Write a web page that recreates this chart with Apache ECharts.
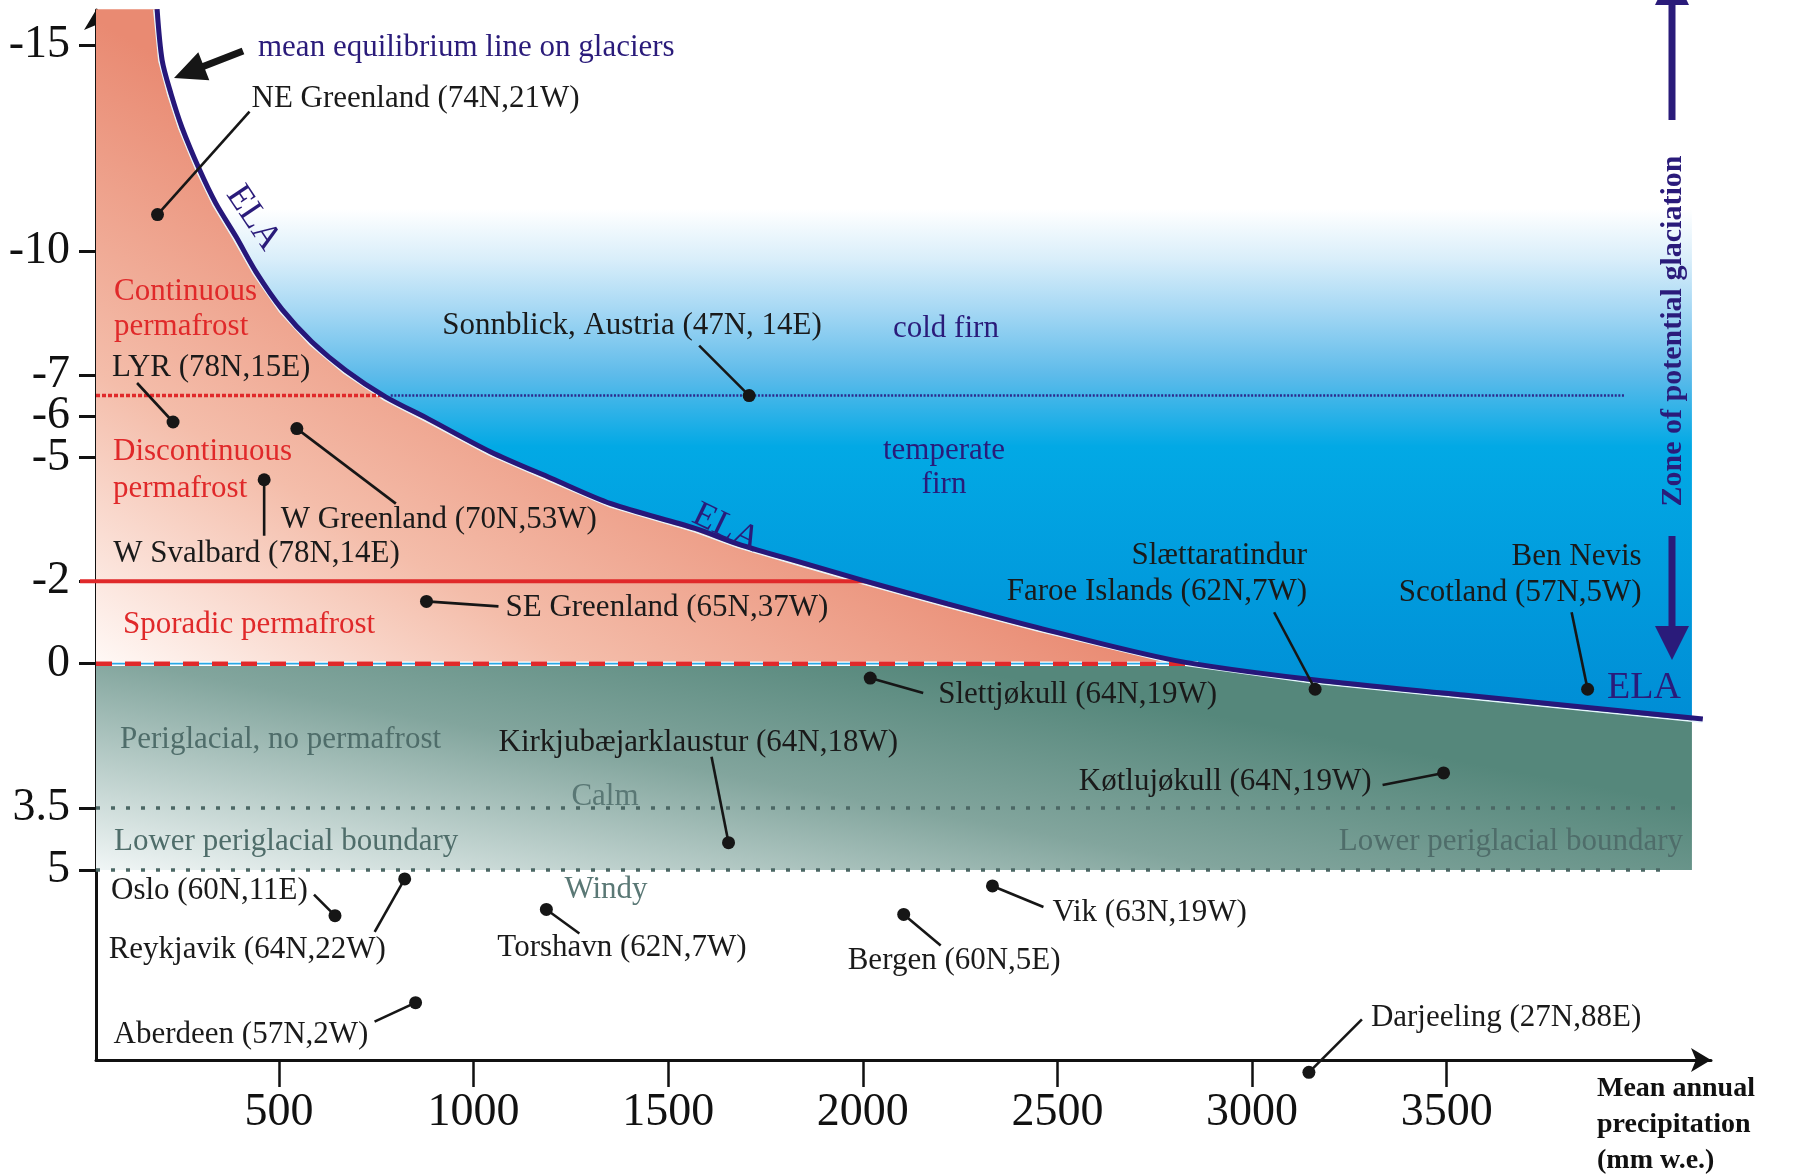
<!DOCTYPE html>
<html>
<head>
<meta charset="utf-8">
<script src="https://cdn.jsdelivr.net/npm/echarts@6/dist/echarts.min.js"></script>
<style>
  html, body { margin: 0; padding: 0; background: #ffffff; }
  #chart { width: 1795px; height: 1175px; }
</style>
</head>
<body>
<div id="chart"></div>
<script>
// Mean equilibrium line (ELA) on glaciers: annual precipitation (mm w.e.) vs mean annual air temperature (°C)
const elaPrecip = [187, 200, 223, 251, 295, 338, 390, 441, 508, 585, 672, 774, 885, 1043, 1201, 1353, 1569, 1680, 1850, 2000, 2218, 2447, 2801, 3157, 3544, 4158];
const elaTemp = [-15.87, -14.63, -13.81, -13.0, -12.0, -11.16, -10.35, -9.50, -8.59, -7.80, -7.11, -6.47, -5.93, -5.14, -4.49, -3.88, -3.28, -2.90, -2.43, -2.02, -1.45, -0.88, -0.08, 0.39, 0.76, 1.34];

// Temperature limits of the zones
const continuousLimit = -6.5;   // continuous permafrost / cold firn
const discontinuousLimit = -2;  // discontinuous / sporadic permafrost
const sporadicLimit = 0;        // lower permafrost limit
const calmLimit = 3.5;          // lower periglacial boundary, calm sites
const windyLimit = 5;           // lower periglacial boundary, windy sites

// Precipitation extent of the drawn zones
const precipMin = 30;
const precipMax = 4179;
const zoneRightEdge = 4130;
const firnLineEnd = 3958;
const calmLineEnd = 4102;
const windyLineEnd = 4061;

// Axis ticks
const xTicks = [500, 1000, 1500, 2000, 2500, 3000, 3500];
const yTicks = [-15, -10, -7, -6, -5, -2, 0, 3.5, 5];
const tempMin = -15.85;
const tempMax = 9.61;

// Stations
const stationNames = [
  'NE Greenland (74N,21W)', 'LYR (78N,15E)', 'W Greenland (70N,53W)', 'W Svalbard (78N,14E)',
  'SE Greenland (65N,37W)', 'Sonnblick, Austria (47N, 14E)', 'Slættaratindur\nFaroe Islands (62N,7W)',
  'Ben Nevis\nScotland (57N,5W)', 'Slettjøkull (64N,19W)', 'Kirkjubæjarklaustur (64N,18W)',
  'Køtlujøkull (64N,19W)', 'Oslo (60N,11E)', 'Reykjavik (64N,22W)', 'Aberdeen (57N,2W)',
  'Torshavn (62N,7W)', 'Bergen (60N,5E)', 'Vik (63N,19W)', 'Darjeeling (27N,88E)'
];
const stationPrecip = [188, 228, 546, 462, 879, 1708, 3162, 3862, 2019, 1655, 3492, 644, 823, 851, 1187, 2105, 2333, 3146];
const stationTemp = [-10.89, -5.86, -5.70, -4.46, -1.51, -6.5, 0.62, 0.62, 0.35, 4.34, 2.65, 6.11, 5.22, 8.22, 5.96, 6.08, 5.39, 9.91];

// Leader line end and label anchor, in px relative to each station dot
const stationLayout = [
  { lead: [92, -103], text: [94, -116], align: 'left' },
  { lead: [-36, -39], text: [-61, -54], align: 'left' },
  { lead: [99, 75], text: [-16, 91], align: 'left' },
  { lead: [0, 56], text: [-151, 74], align: 'left' },
  { lead: [72, 5], text: [79, 6], align: 'left' },
  { lead: [-50, -50], text: [-307, -70], align: 'left' },
  { lead: [-41, -77], text: [-8, -115], align: 'right' },
  { lead: [-16, -77], text: [54, -114], align: 'right' },
  { lead: [53, 15], text: [68, 17], align: 'left' },
  { lead: [-17, -86], text: [-230, -100], align: 'left' },
  { lead: [-61, 12], text: [-72, 9], align: 'right' },
  { lead: [-21, -21], text: [-224, -25], align: 'left' },
  { lead: [-30, 53], text: [-296, 71], align: 'left' },
  { lead: [-41, 19], text: [-302, 32], align: 'left' },
  { lead: [33, 24], text: [-49, 38], align: 'left' },
  { lead: [37, 31], text: [-56, 46], align: 'left' },
  { lead: [51, 21], text: [60, 27], align: 'left' },
  { lead: [53, -53], text: [62, -55], align: 'left' }
];

const SERIF = '"Liberation Serif", "Times New Roman", serif';
const NAVY = '#2a1b7a';
const RED = '#e0292a';
const INK = '#1a1a1a';
const SLATE = '#4f6d6a';
const labelFont = '31px ' + SERIF;

// Zones, permafrost limits and periglacial boundaries
function renderZones(params, api) {
  const P = elaPrecip.map((x, i) => api.coord([x, elaTemp[i]]));
  const left = api.coord([precipMin, 0])[0];
  const right = api.coord([zoneRightEdge, 0])[0];
  const xAt = v => api.coord([v, 0])[0];
  const yAt = v => api.coord([precipMin, v])[1];
  const y0 = yAt(sporadicLimit);
  const y5 = yAt(windyLimit);

  // point where the ELA curve reaches a screen height
  const crossY = yy => {
    for (let i = 1; i < P.length; i++) {
      const a = P[i - 1], b = P[i];
      if ((a[1] - yy) * (b[1] - yy) <= 0 && a[1] !== b[1]) {
        const t = (yy - a[1]) / (b[1] - a[1]);
        return [a[0] + t * (b[0] - a[0]), yy];
      }
    }
    return P[P.length - 1];
  };
  // point where the ELA curve reaches a screen x
  const crossX = xx => {
    for (let i = 1; i < P.length; i++) {
      const a = P[i - 1], b = P[i];
      if (a[0] <= xx && b[0] >= xx) {
        const t = (xx - a[0]) / (b[0] - a[0]);
        return [xx, a[1] + t * (b[1] - a[1])];
      }
    }
    return P[P.length - 1];
  };

  const c0 = crossY(y0);
  const cR = crossX(right);

  const blue = [[P[0][0], 0]].concat(P.filter(p => p[0] < right), [cR, [right, 0]]);
  const pink = [[left, P[0][1]]].concat(P.filter(p => p[1] <= y0), [c0, [left, y0]]);
  const teal = [[left, y0], c0].concat(P.filter(p => p[1] > y0 && p[0] < right), [cR, [right, y5], [left, y5]]);

  const blueFill = {
    type: 'linear', x: 0, y: 0, x2: 0, y2: 720, global: true,
    colorStops: [
      { offset: 0, color: '#ffffff' }, { offset: 0.29, color: '#ffffff' },
      { offset: 0.36, color: '#d9eefa' }, { offset: 0.43, color: '#a6d8f4' },
      { offset: 0.52, color: '#5ebbea' }, { offset: 0.62, color: '#02a9e5' },
      { offset: 1, color: '#008dd5' }
    ]
  };
  const pinkFill = {
    type: 'linear', x: 96, y: 660, x2: 379, y2: 190, global: true,
    colorStops: [
      { offset: 0, color: '#fff8f5' }, { offset: 0.45, color: '#f4bdaa' },
      { offset: 1, color: '#e98a72' }
    ]
  };
  const tealFill = {
    type: 'linear', x: 96, y: 873, x2: 162, y2: 519, global: true,
    colorStops: [
      { offset: 0, color: '#f2f7f7' }, { offset: 0.59, color: '#82a59d' },
      { offset: 1, color: '#55877b' }
    ]
  };

  // thin light edge along the lower side of the ELA
  const edge = P.map((p, i) => {
    const a = P[Math.max(0, i - 1)], b = P[Math.min(P.length - 1, i + 1)];
    const dx = b[0] - a[0], dy = b[1] - a[1];
    const len = Math.sqrt(dx * dx + dy * dy) || 1;
    return [p[0] - dy / len * 3.3, p[1] + dx / len * 3.3];
  });

  const yC = yAt(continuousLimit);
  const cC = crossY(yC);
  const yD = yAt(discontinuousLimit);
  const cD = crossY(yD);
  const y35 = yAt(calmLimit);

  const seg = (pts, style) => ({ type: 'polyline', shape: { points: pts }, style: Object.assign({ fill: null }, style) });

  return {
    type: 'group',
    silent: true,
    children: [
      { type: 'polygon', shape: { points: blue }, style: { fill: blueFill } },
      { type: 'polygon', shape: { points: teal }, style: { fill: tealFill } },
      { type: 'polygon', shape: { points: pink }, style: { fill: pinkFill } },
      seg(edge, { stroke: '#e6f6fd', lineWidth: 1.6 }),
      // continuous permafrost / cold firn limit
      seg([[left, yC], [cC[0], yC]], { stroke: RED, lineWidth: 3.5, lineDash: [4, 2] }),
      seg([[cC[0] + 7, yC], [xAt(firnLineEnd), yC]], { stroke: '#2d2a8c', lineWidth: 2.5, lineDash: [2, 1.6] }),
      // discontinuous limit
      seg([[left - 16, yD], [cD[0], yD]], { stroke: RED, lineWidth: 4 }),
      // lower permafrost limit
      seg([[left, y0], [c0[0], y0]], { stroke: '#ffffff', lineWidth: 4.5 }),
      seg([[left, y0], [c0[0], y0]], { stroke: '#2aa8e4', lineWidth: 1.6 }),
      seg([[left, y0], [c0[0], y0]], { stroke: RED, lineWidth: 4.5, lineDash: [16, 13] }),
      // lower periglacial boundaries
      seg([[left, y35], [xAt(calmLineEnd), y35]], { stroke: '#4b6764', lineWidth: 3.5, lineDash: [4, 11] }),
      seg([[left, y5], [xAt(windyLineEnd), y5]], { stroke: '#4b6764', lineWidth: 3.5, lineDash: [4, 11] })
    ]
  };
}

function renderStation(params, api) {
  const i = params.dataIndex;
  const p = api.coord([api.value(0), api.value(1)]);
  const L = stationLayout[i];
  return {
    type: 'group',
    children: [
      { type: 'line', shape: { x1: p[0], y1: p[1], x2: p[0] + L.lead[0], y2: p[1] + L.lead[1] },
        style: { stroke: '#161616', lineWidth: 2.6 } },
      { type: 'circle', shape: { cx: p[0], cy: p[1], r: 6.5 }, style: { fill: '#161616' } },
      { type: 'text', x: p[0] + L.text[0], y: p[1] + L.text[1],
        style: { text: stationNames[i], fill: INK, font: labelFont, align: L.align, verticalAlign: 'middle', lineHeight: 36 } }
    ]
  };
}

function note(text, x, y, opts) {
  return {
    type: 'text', x: x, y: y, rotation: (opts && opts.rotation) || 0, silent: true, z: 20,
    style: Object.assign({
      text: text, fill: INK, font: labelFont, align: 'left', verticalAlign: 'middle', lineHeight: 35
    }, opts && opts.style)
  };
}

const chart = echarts.init(document.getElementById('chart'), null, { renderer: 'canvas' });

chart.setOption({
  animation: false,
  backgroundColor: '#ffffff',
  grid: { left: 96, right: 84, top: 10, bottom: 115, containLabel: false },
  xAxis: {
    type: 'value', min: precipMin, max: precipMax,
    axisLine: { onZero: false, symbol: ['none', 'arrow'], symbolSize: [18, 20], lineStyle: { color: '#111', width: 3 } },
    axisTick: { customValues: xTicks, length: 27, lineStyle: { color: '#111', width: 2.5 } },
    axisLabel: { customValues: xTicks, margin: 30, fontFamily: 'Liberation Serif', fontSize: 46, color: '#111',
                 formatter: v => String(v) },
    splitLine: { show: false }
  },
  yAxis: {
    type: 'value', inverse: true, min: tempMin, max: tempMax,
    axisLine: { onZero: false, symbol: ['none', 'arrow'], symbolSize: [18, 20], lineStyle: { color: '#111', width: 3 } },
    axisTick: { customValues: yTicks, length: 17, lineStyle: { color: '#111', width: 3 } },
    axisLabel: { customValues: yTicks, margin: 26, fontFamily: 'Liberation Serif', fontSize: 46, color: '#111',
                 formatter: v => String(v) },
    splitLine: { show: false }
  },
  series: [
    {
      type: 'custom', name: 'zones', z: 1, clip: false, silent: true,
      renderItem: renderZones, data: [[precipMin, sporadicLimit]]
    },
    {
      type: 'line', name: 'ELA', z: 3, clip: false, silent: true, showSymbol: false, smooth: 0.3,
      data: elaPrecip.map((x, i) => [x, elaTemp[i]]),
      lineStyle: { color: '#26177a', width: 5 }
    },
    {
      type: 'custom', name: 'stations', z: 5, clip: false, silent: true,
      renderItem: renderStation,
      data: stationPrecip.map((x, i) => [x, stationTemp[i]])
    }
  ],
  graphic: [
    // arrow pointing at the equilibrium line
    { type: 'polygon', z: 20, silent: true,
      shape: { points: [[174, 78], [209.3, 80.3], [205.1, 69.6], [244.3, 54.3], [241.7, 47.7], [202.5, 63.0], [198.3, 52.3]] },
      style: { fill: '#161616' } },
    note('mean equilibrium line on glaciers', 258, 48, { style: { fill: NAVY } }),
    note('ELA', 253, 218, { rotation: -0.98, style: { fill: NAVY, font: '36px ' + SERIF, align: 'center' } }),
    note('ELA', 726, 528, { rotation: -0.45, style: { fill: NAVY, font: '36px ' + SERIF, align: 'center' } }),
    note('ELA', 1644, 688, { style: { fill: NAVY, font: '38px ' + SERIF, align: 'center' } }),
    note('Continuous\npermafrost', 114, 309.5, { style: { fill: RED } }),
    note('Discontinuous\npermafrost', 113, 470.5, { style: { fill: RED, lineHeight: 37 } }),
    note('Sporadic permafrost', 123, 625, { style: { fill: RED } }),
    note('cold firn', 893, 329, { style: { fill: NAVY } }),
    note('temperate\nfirn', 944, 468, { style: { fill: NAVY, align: 'center', lineHeight: 34 } }),
    note('Periglacial, no permafrost', 120, 740, { style: { fill: SLATE } }),
    note('Calm', 605, 797, { style: { fill: '#5a7875', align: 'center' } }),
    note('Lower periglacial boundary', 114, 842, { style: { fill: SLATE } }),
    note('Lower periglacial boundary', 1683, 842, { style: { fill: SLATE, align: 'right' } }),
    note('Windy', 606, 890, { style: { fill: '#5a7875', align: 'center' } }),
    // zone of potential glaciation
    { type: 'rect', z: 20, silent: true, shape: { x: 1668.5, y: 0, width: 7, height: 120 }, style: { fill: NAVY } },
    { type: 'polygon', z: 20, silent: true, shape: { points: [[1655, 5], [1689, 5], [1672, -30]] }, style: { fill: NAVY } },
    { type: 'rect', z: 20, silent: true, shape: { x: 1668.5, y: 536, width: 7, height: 92 }, style: { fill: NAVY } },
    { type: 'polygon', z: 20, silent: true, shape: { points: [[1655, 626], [1689, 626], [1672, 660]] }, style: { fill: NAVY } },
    note('Zone of potential glaciation', 1673, 331, { rotation: Math.PI / 2, style: { fill: NAVY, font: 'bold 30px ' + SERIF, align: 'center' } }),
    // x-axis title
    note('Mean annual\nprecipitation\n(mm w.e.)', 1597, 1125, { style: { font: 'bold 28px ' + SERIF, lineHeight: 36, fill: '#111' } })
  ]
});
</script>
</body>
</html>
